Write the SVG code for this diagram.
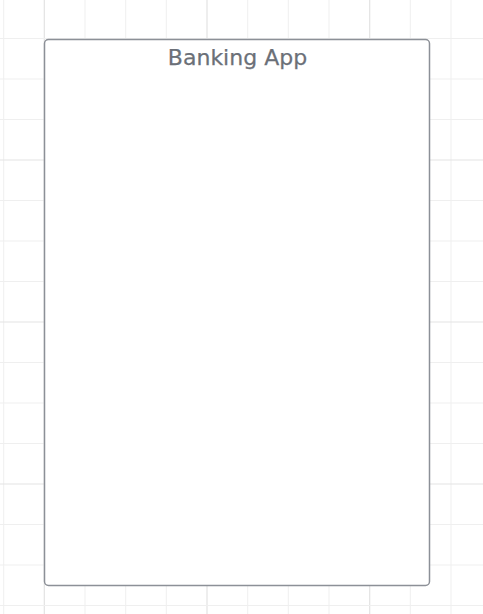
<svg xmlns="http://www.w3.org/2000/svg" width="483" height="614" viewBox="0 0 483 614">
<style>
.minor{stroke:#efefef;stroke-width:1}
.major{stroke:#e3e3e3;stroke-width:1.2}
.frame{fill:#ffffff;stroke:#8c9097;stroke-width:1.5}
.title{font-family:"DejaVu Sans","Liberation Sans",sans-serif;font-size:22px;fill:#6b7078;stroke:#6b7078;stroke-width:0.25}
</style>
<rect width="483" height="614" fill="#ffffff"/>
<g id="grid">
<line class="minor" x1="3.7" y1="0" x2="3.7" y2="614"/>
<line class="major" x1="44.3" y1="0" x2="44.3" y2="614"/>
<line class="minor" x1="85" y1="0" x2="85" y2="614"/>
<line class="minor" x1="125.7" y1="0" x2="125.7" y2="614"/>
<line class="minor" x1="166.3" y1="0" x2="166.3" y2="614"/>
<line class="major" x1="207" y1="0" x2="207" y2="614"/>
<line class="minor" x1="247.7" y1="0" x2="247.7" y2="614"/>
<line class="minor" x1="288.3" y1="0" x2="288.3" y2="614"/>
<line class="minor" x1="329" y1="0" x2="329" y2="614"/>
<line class="major" x1="369.7" y1="0" x2="369.7" y2="614"/>
<line class="minor" x1="410.3" y1="0" x2="410.3" y2="614"/>
<line class="minor" x1="451" y1="0" x2="451" y2="614"/>
<line class="minor" x1="0" y1="38.5" x2="483" y2="38.5"/>
<line class="minor" x1="0" y1="79" x2="483" y2="79"/>
<line class="minor" x1="0" y1="119.5" x2="483" y2="119.5"/>
<line class="major" x1="0" y1="160" x2="483" y2="160"/>
<line class="minor" x1="0" y1="200.5" x2="483" y2="200.5"/>
<line class="minor" x1="0" y1="241" x2="483" y2="241"/>
<line class="minor" x1="0" y1="281.5" x2="483" y2="281.5"/>
<line class="major" x1="0" y1="322" x2="483" y2="322"/>
<line class="minor" x1="0" y1="362.5" x2="483" y2="362.5"/>
<line class="minor" x1="0" y1="403" x2="483" y2="403"/>
<line class="minor" x1="0" y1="443.5" x2="483" y2="443.5"/>
<line class="major" x1="0" y1="484" x2="483" y2="484"/>
<line class="minor" x1="0" y1="524.5" x2="483" y2="524.5"/>
<line class="minor" x1="0" y1="565" x2="483" y2="565"/>
<line class="minor" x1="0" y1="605.5" x2="483" y2="605.5"/>
</g>
<g id="banking-app">
<rect class="frame" x="44.5" y="39.5" width="385" height="546" rx="4" ry="4"/>
<text class="title" x="237.5" y="65" text-anchor="middle">Banking App</text>
</g>
<g id="connectors"></g>
</svg>
